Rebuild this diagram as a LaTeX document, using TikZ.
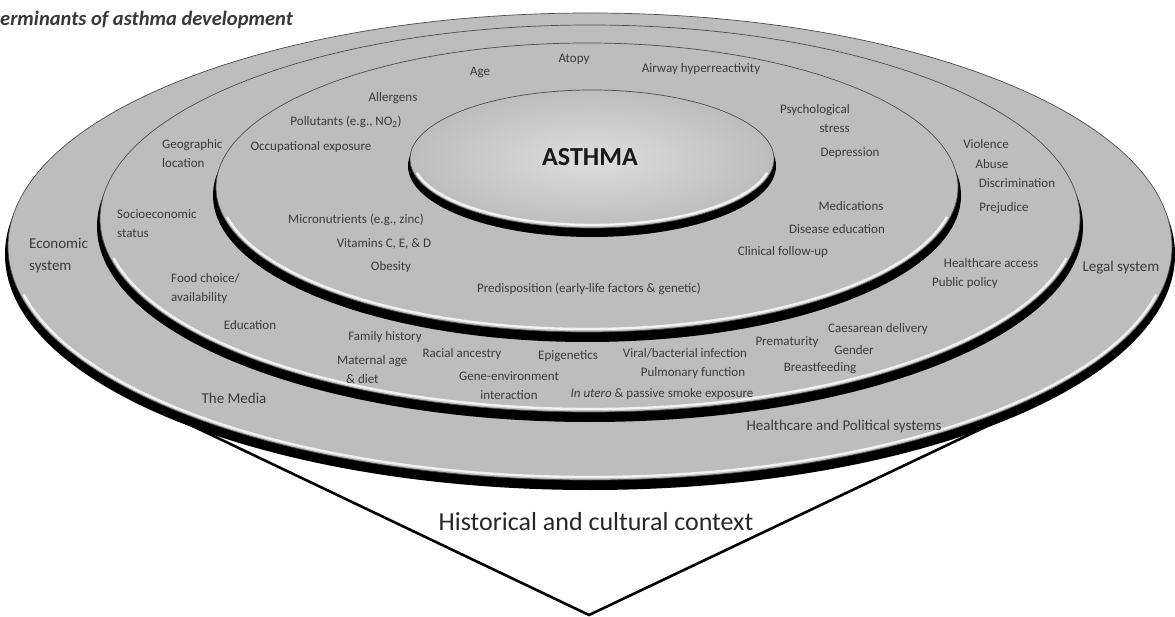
\documentclass[tikz,border=0pt]{standalone}
\usepackage{fontspec}
\setmainfont{Carlito}
\usepackage{tikz}
\definecolor{ringgray}{RGB}{189,189,189}
\definecolor{discgray}{RGB}{222,222,222}
\definecolor{labelink}{RGB}{58,58,58}

\begin{document}
\begin{tikzpicture}[
    x=1pt, y=-1pt,
    band/.style={fill=black},
    face/.style={fill=ringgray, draw=black!70, line width=0.7pt},
    bevel/.style={draw=white, line width=2.4pt, opacity=0.8},
    lbl/.style={font=\fontsize{13}{19}\selectfont, text=labelink, inner sep=0pt, align=center},
    outer/.style={font=\fontsize{15}{22}\selectfont, text=labelink, inner sep=0pt, align=left},
    contextline/.style={line width=2.6pt, black, line join=miter}
  ]
    \useasboundingbox (0,0) rectangle (1175,617);

    % context triangle, behind the discs
    \coordinate (ctxl) at (180,420);
    \coordinate (ctxapex) at (589,615);
    \coordinate (ctxr) at (1000,420);
    \draw[contextline] (ctxl) -- (ctxapex) -- (ctxr);

    % outer disc
    \fill[band] (590,254.5) ellipse [x radius=585, y radius=235.5];
    \path[face] (590,246.5) ellipse [x radius=582, y radius=233.5];
    \draw[bevel] (590,246.5) ++(12:579 and 230.5) arc[start angle=12, end angle=168, x radius=579, y radius=230.5];

    % second disc
    \fill[band] (590,226.5) ellipse [x radius=493, y radius=195.5];
    \path[face] (590,218.5) ellipse [x radius=490, y radius=193.5];
    \draw[bevel] (590,218.5) ++(12:487 and 190.5) arc[start angle=12, end angle=168, x radius=487, y radius=190.5];

    % third disc
    \fill[band] (587,195.5) ellipse [x radius=374, y radius=146.5];
    \path[face] (587,187.5) ellipse [x radius=371, y radius=144.5];
    \draw[bevel] (587,187.5) ++(12:368 and 141.5) arc[start angle=12, end angle=168, x radius=368, y radius=141.5];

    % asthma disc
    \fill[band] (592,166) ellipse [x radius=184, y radius=71];
    \shade[inner color=discgray, outer color=ringgray, draw=black!70, line width=0.7pt] (592,159) ellipse [x radius=182, y radius=69];
    \draw[bevel] (592,159) ++(12:179 and 66) arc[start angle=12, end angle=168, x radius=179, y radius=66];

    % title and centre
    \node[anchor=west, inner sep=0pt, font=\fontsize{20.5}{24}\selectfont\bfseries\itshape, text=black!78] (title) at (0,20) {erminants of asthma development};
    \node[inner sep=0pt, font=\fontsize{26}{30}\selectfont\bfseries, text=black!90] (asthma) at (590,157) {ASTHMA};
    \node[inner sep=0pt, font=\fontsize{26}{30}\selectfont, text=black!85] (context) at (596,522) {Historical and cultural context};

    % individual ring
    \node[lbl] (atopy)    at (574,59)  {Atopy};
    \node[lbl] (age)      at (480,72)  {Age};
    \node[lbl] (airway)   at (701,69)  {Airway hyperreactivity};
    \node[lbl] (allergen) at (393,98)  {Allergens};
    \node[lbl] (pollut)   at (346,122) {Pollutants (e.g., NO\textsubscript{2})};
    \node[lbl] (occup)    at (311,147) {Occupational exposure};
    \node[lbl, anchor=east, align=right] (stress) at (850,118.5) {Psychological\\stress};
    \node[lbl] (depress)  at (850,153) {Depression};
    \node[lbl] (micro)    at (356,220) {Micronutrients (e.g., zinc)};
    \node[lbl] (vitamin)  at (384,244) {Vitamins C, E, \& D};
    \node[lbl] (obesity)  at (391,267) {Obesity};
    \node[lbl] (medic)    at (851,206) {Medications};
    \node[lbl] (diseased) at (837,229) {Disease education};
    \node[lbl] (followup) at (783,252) {Clinical follow-up};
    \node[lbl] (predisp)  at (589,289) {Predisposition (early-life factors \& genetic)};

    % early-life band
    \node[lbl] (family)   at (385,337) {Family history};
    \node[lbl, anchor=west, align=left] (maternal) at (337,370) {Maternal age\\\hspace*{9pt}\& diet};
    \node[lbl] (racial)   at (462,354) {Racial ancestry};
    \node[lbl] (epigen)   at (568,356) {Epigenetics};
    \node[lbl] (geneenv)  at (509,385.5) {Gene-environment\\interaction};
    \node[lbl] (viral)    at (685,353) {Viral/bacterial infection};
    \node[lbl] (pulmon)   at (693,373) {Pulmonary function};
    \node[lbl] (utero)    at (662,394) {\textit{In utero} \& passive smoke exposure};
    \node[lbl] (premat)   at (787,342) {Prematurity};
    \node[lbl] (caesar)   at (878,329) {Caesarean delivery};
    \node[lbl] (gender)   at (854,350) {Gender};
    \node[lbl] (breast)   at (820,368) {Breastfeeding};

    % community ring
    \node[lbl, anchor=west, align=left] (geo)    at (162,153.5) {Geographic\\location};
    \node[lbl, anchor=west, align=left] (socio)  at (117,223.5) {Socioeconomic\\status};
    \node[lbl, anchor=west, align=left] (food)   at (171,288.5) {Food choice/\\availability};
    \node[lbl] (educ)     at (250,325) {Education};
    \node[lbl] (violence) at (986,144) {Violence};
    \node[lbl] (abuse)    at (992,164) {Abuse};
    \node[lbl] (discrim)  at (1017,183) {Discrimination};
    \node[lbl] (prejud)   at (1004,208) {Prejudice};
    \node[lbl] (hcaccess) at (991,263) {Healthcare access};
    \node[lbl] (policy)   at (965,283) {Public policy};

    % systems ring
    \node[outer, anchor=west] (econ)  at (29,256) {Economic\\system};
    \node[outer] (media)  at (234,398) {The Media};
    \node[outer] (legal)  at (1121,268) {Legal system};
    \node[outer] (hcpol)  at (844,427) {Healthcare and Political systems};
\end{tikzpicture}
\end{document}
